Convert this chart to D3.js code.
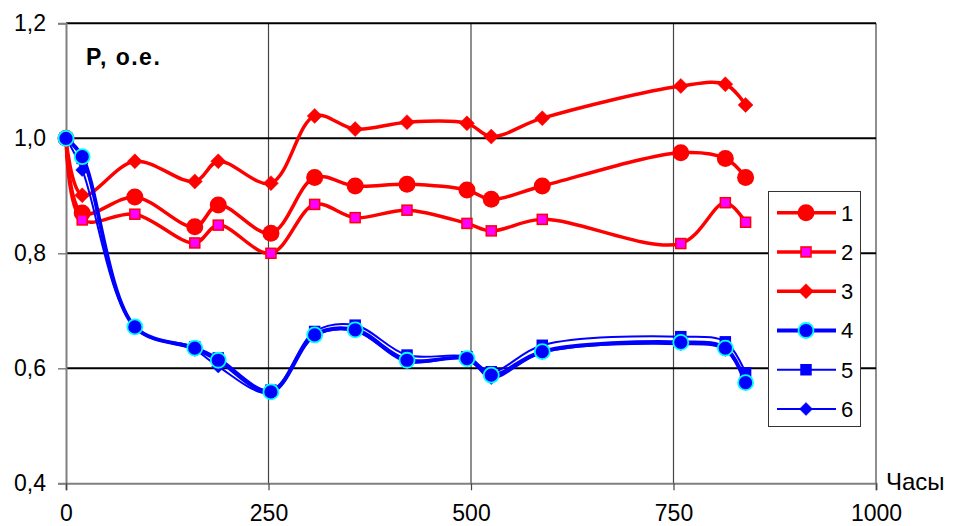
<!DOCTYPE html>
<html><head><meta charset="utf-8">
<script src="https://cdn.jsdelivr.net/npm/d3@7/dist/d3.min.js"></script>
<style>
html,body{margin:0;padding:0;background:#fff;}
svg{display:block;font-family:"Liberation Sans",Arial,sans-serif;}
</style></head>
<body><svg id="c" width="954" height="526"></svg>
<script>
const hours = [0, 20, 85, 159, 188, 253, 307, 357, 421, 495, 525, 588, 759, 814, 839];
const s1 = [1.0, 0.870, 0.898, 0.846, 0.884, 0.835, 0.932, 0.917, 0.920, 0.910, 0.894, 0.917, 0.975, 0.965, 0.932];
const s2 = [1.0, 0.858, 0.868, 0.818, 0.849, 0.800, 0.885, 0.862, 0.875, 0.852, 0.839, 0.859, 0.817, 0.888, 0.854];
const s3 = [1.0, 0.901, 0.960, 0.925, 0.960, 0.922, 1.039, 1.016, 1.028, 1.026, 1.003, 1.035, 1.091, 1.094, 1.058];
const s4 = [1.0, 0.968, 0.672, 0.635, 0.614, 0.559, 0.658, 0.667, 0.614, 0.617, 0.588, 0.629, 0.645, 0.635, 0.575];
const s5 = [1.0, 0.965, 0.672, 0.637, 0.618, 0.562, 0.664, 0.675, 0.623, 0.620, 0.594, 0.640, 0.655, 0.646, 0.592];
const s6 = [1.0, 0.945, 0.671, 0.632, 0.603, 0.557, 0.656, 0.665, 0.611, 0.617, 0.583, 0.627, 0.642, 0.632, 0.574];
const seriesNames = ["1", "2", "3", "4", "5", "6"];
const xTicks = [0, 250, 500, 750, 1000];
const yTicks = [0.4, 0.6, 0.8, 1.0, 1.2];
const yTickLabels = ["0,4", "0,6", "0,8", "1,0", "1,2"];
const yTitle = "P, o.e.";
const xTitle = "Часы";

const styles = [
  {color:"#ff0000", width:3.5, marker:"circle", size:8.5, fill:"#ff0000", stroke:"#ff0000"},
  {color:"#ff0000", width:3.5, marker:"square", size:10, fill:"#ff00ff", stroke:"#ff0000"},
  {color:"#ff0000", width:3.5, marker:"diamond", size:7.5, fill:"#ff0000", stroke:"#ff0000"},
  {color:"#0000ff", width:4, marker:"circle", size:7.5, fill:"#0000ff", stroke:"#00ffff"},
  {color:"#0000ff", width:2, marker:"square", size:10, fill:"#0000ff", stroke:"#0000ff"},
  {color:"#0000ff", width:2, marker:"diamond", size:6.5, fill:"#0000ff", stroke:"#0000ff"}
];
const allSeries = [s1, s2, s3, s4, s5, s6];

const svg = d3.select("#c");
const x = d3.scaleLinear().domain([0, 1000]).range([66, 876]);
const y = d3.scaleLinear().domain([0.4, 1.2]).range([483.3, 23.3]);

// vertical gridlines
svg.append("g").selectAll("line").data(xTicks.slice(1)).join("line")
  .attr("x1", d => x(d)).attr("x2", d => x(d)).attr("y1", y(1.2)).attr("y2", y(0.4))
  .attr("stroke", "#444").attr("stroke-width", 1.2);
// horizontal gridlines
svg.append("g").selectAll("line").data(yTicks.slice(1)).join("line")
  .attr("x1", x(0)).attr("x2", x(1000)).attr("y1", d => y(d)).attr("y2", d => y(d))
  .attr("stroke", "#000").attr("stroke-width", 2);

// axes
const yAxis = d3.axisLeft(y).tickValues(yTicks).tickFormat((d, i) => yTickLabels[i]).tickSize(8).tickPadding(12);
const gy = svg.append("g").attr("transform", `translate(${x(0)},0)`).call(yAxis);
gy.select(".domain").attr("stroke", "#808080").attr("stroke-width", 2);
gy.selectAll(".tick line").attr("stroke", "#808080").attr("stroke-width", 1.5);
gy.selectAll("text").attr("font-size", 23).attr("fill", "#000")
  .attr("font-family", "'Liberation Sans',Arial,sans-serif");

const xAxis = d3.axisBottom(x).tickValues(xTicks).tickFormat(d3.format("d")).tickSize(7).tickPadding(14);
const gx = svg.append("g").attr("transform", `translate(0,${y(0.4)})`).call(xAxis);
gx.select(".domain").attr("stroke", "#808080").attr("stroke-width", 2);
gx.selectAll(".tick line").attr("stroke", "#444").attr("stroke-width", 1.2);
gx.selectAll("text").attr("font-size", 23).attr("fill", "#000")
  .attr("font-family", "'Liberation Sans',Arial,sans-serif");

svg.append("text").attr("x", 86).attr("y", 64.5).text(yTitle)
  .attr("font-size", 23).attr("font-weight", "bold").attr("letter-spacing", 1.5);
svg.append("text").attr("x", 886).attr("y", 490).text(xTitle).attr("font-size", 24);

const line = d3.line().x(d => x(d[0])).y(d => y(d[1])).curve(d3.curveCatmullRom.alpha(0.5));

function drawMarker(g, st, cx, cy) {
  if (st.marker === "circle") {
    g.append("circle").attr("cx", cx).attr("cy", cy).attr("r", st.size)
      .attr("fill", st.fill).attr("stroke", st.stroke).attr("stroke-width", st.stroke === st.fill ? 0 : 1.8);
  } else if (st.marker === "square") {
    const s = st.size;
    g.append("rect").attr("x", cx - s/2).attr("y", cy - s/2).attr("width", s).attr("height", s)
      .attr("fill", st.fill).attr("stroke", st.stroke).attr("stroke-width", 1.5);
  } else {
    const s = st.size;
    g.append("path").attr("d", `M${cx},${cy-s}L${cx+s},${cy}L${cx},${cy+s}L${cx-s},${cy}Z`)
      .attr("fill", st.fill).attr("stroke", st.stroke).attr("stroke-width", 0.5);
  }
}

const order = [0, 1, 2, 5, 4, 3];
order.forEach(i => {
  const st = styles[i];
  const pts = hours.map((h, k) => [h, allSeries[i][k]]);
  const g = svg.append("g");
  g.append("path").attr("d", line(pts)).attr("fill", "none")
    .attr("stroke", st.color).attr("stroke-width", st.width).attr("stroke-linejoin", "round");
  pts.forEach(p => drawMarker(g, st, x(p[0]), y(p[1])));
});

// legend
const lg = svg.append("g");
lg.append("rect").attr("x", 768.5).attr("y", 191.5).attr("width", 92).attr("height", 235)
  .attr("fill", "#fff").attr("stroke", "#333").attr("stroke-width", 1);
const rowY = d3.scaleLinear().domain([0, 5]).range([212.7, 409]);
seriesNames.forEach((nm, i) => {
  const st = styles[i];
  const cy = rowY(i);
  lg.append("line").attr("x1", 777).attr("x2", 836).attr("y1", cy).attr("y2", cy)
    .attr("stroke", st.color).attr("stroke-width", st.width);
  drawMarker(lg, st, 806, cy);
  lg.append("text").attr("x", 841).attr("y", cy + 8).text(nm).attr("font-size", 22);
});
</script></body></html>
